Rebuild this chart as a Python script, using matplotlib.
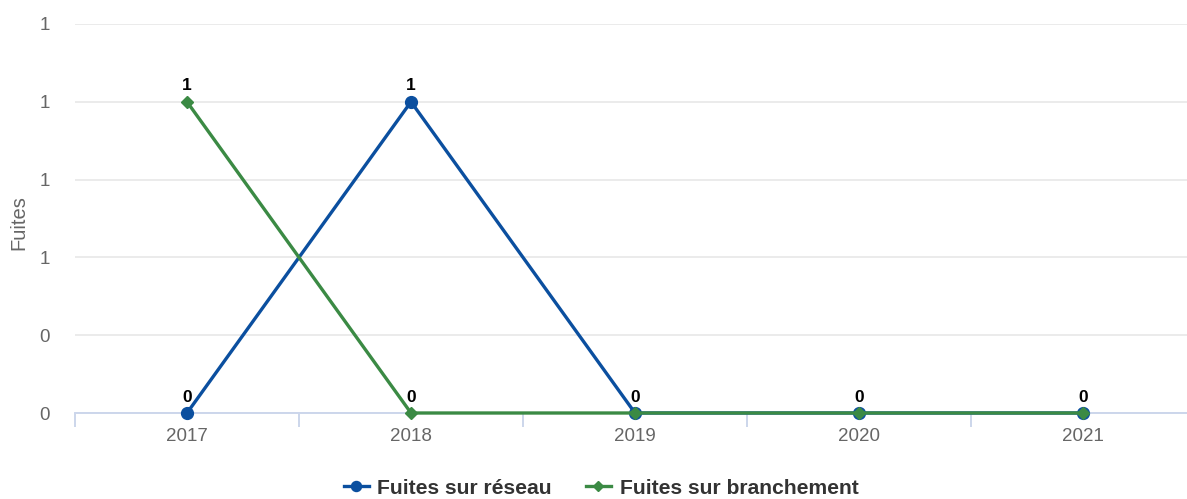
import matplotlib
matplotlib.use("Agg")
import matplotlib.pyplot as plt
from matplotlib.ticker import FixedLocator, FuncFormatter

plt.rcParams["font.family"] = ["Liberation Sans", "DejaVu Sans"]

# data
annees = ["2017", "2018", "2019", "2020", "2021"]
fuites_reseau = [0, 1, 0, 0, 0]
fuites_branchement = [1, 0, 0, 0, 0]
y_ticks = [0, 0.25, 0.5, 0.75, 1.0, 1.25]

BLUE = "#0b4f9f"
GREEN = "#3b8a44"
W, H = 1187, 499

fig = plt.figure(figsize=(W / 100, H / 100), dpi=100)
ax = fig.add_axes([75 / W, 1 - 413 / H, 1120 / W, (413 - 24) / H])

x = list(range(len(annees)))
ax.plot(x, fuites_reseau, color=BLUE, lw=2.4, marker="o", ms=8.5,
        label="Fuites sur réseau", zorder=3, clip_on=False)
ax.plot(x, fuites_branchement, color=GREEN, lw=2.4, marker="D", ms=6.5,
        label="Fuites sur branchement", zorder=4, clip_on=False)

# data labels (hidden when they overlap an existing one)
for i in x:
    ax.annotate(f"{fuites_reseau[i]:.0f}", (i, fuites_reseau[i]), xytext=(0, 6),
                textcoords="offset points", ha="center", va="bottom",
                fontsize=12.5, fontweight="bold", color="black", zorder=6)
    if fuites_branchement[i] != fuites_reseau[i]:
        ax.annotate(f"{fuites_branchement[i]:.0f}", (i, fuites_branchement[i]), xytext=(0, 6),
                    textcoords="offset points", ha="center", va="bottom",
                    fontsize=12.5, fontweight="bold", color="black", zorder=6)

ax.set_xlim(-0.5, len(annees) - 0.5)
ax.set_ylim(0, 1.25)

ax.yaxis.set_major_locator(FixedLocator(y_ticks))
ax.yaxis.set_major_formatter(FuncFormatter(lambda v, p: f"{int(v + 0.5)}"))
ax.grid(axis="y", color="#e6e6e6", lw=1.1, zorder=0)
ax.set_axisbelow(True)

ax.set_xticks(x)
ax.set_xticklabels(annees)
ax.set_xticks([i - 0.5 for i in range(len(annees) + 1)], minor=True)

for s in ["top", "right", "left"]:
    ax.spines[s].set_visible(False)
ax.spines["bottom"].set_color("#ccd6eb")
ax.spines["bottom"].set_linewidth(1.4)
ax.spines["bottom"].set_zorder(1)

ax.tick_params(axis="y", length=0, pad=18, labelsize=13.5, labelcolor="#666666")
ax.tick_params(axis="x", which="major", length=0, pad=11, labelsize=13.5, labelcolor="#666666")
ax.tick_params(axis="x", which="minor", length=10, width=1.4, color="#ccd6eb", direction="out")

ax.set_ylabel("Fuites", fontsize=14.5, color="#666666")
ax.yaxis.set_label_coords(-47 / 1120, 0.49)

fig.legend(loc="center", bbox_to_anchor=(601 / W, 1 - 488 / H), ncol=2, frameon=False,
           prop={"weight": "bold", "size": 15.2}, labelcolor="#333333",
           handlelength=1.2, handletextpad=0.4, columnspacing=1.6, markerscale=0.85)

fig.savefig("out.png", dpi=100)
